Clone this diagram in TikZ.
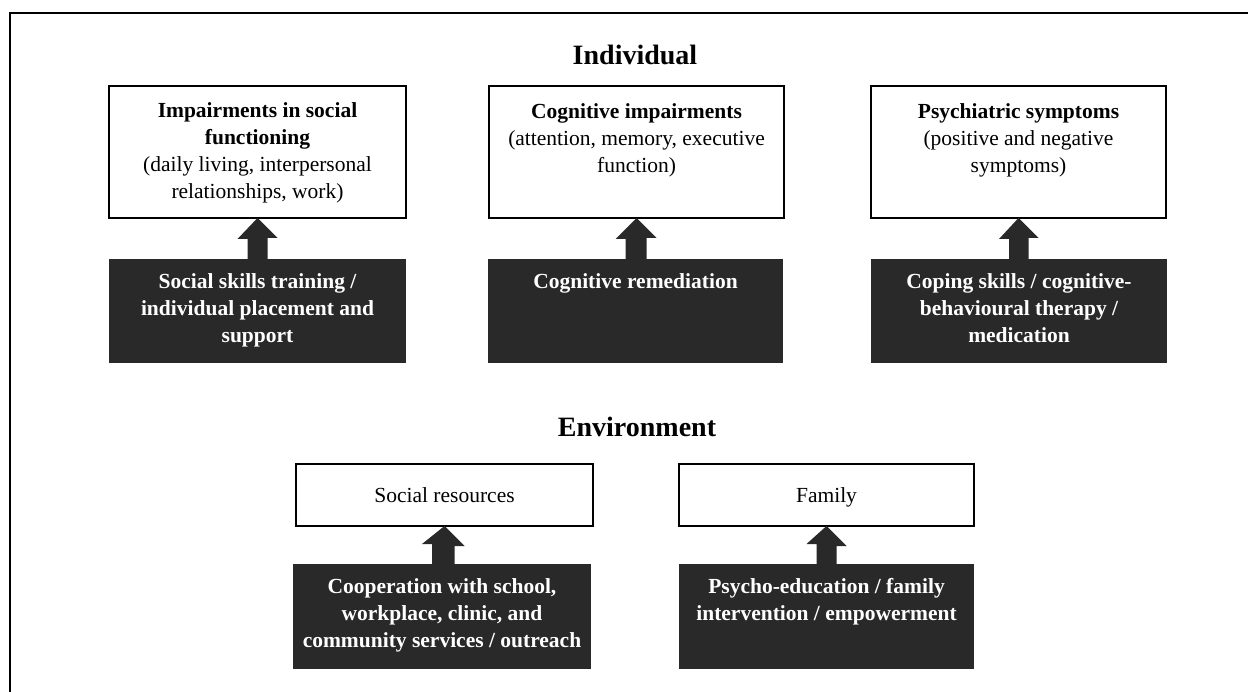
\documentclass[tikz,border=0pt]{standalone}
\usepackage{fontspec}
\setmainfont{Liberation Serif}
\definecolor{darkfill}{gray}{0.16}
\begin{document}
\begin{tikzpicture}[x=1pt,y=-1pt,
  wbox/.style={draw=black, line width=1.2pt, fill=white, inner sep=0pt, outer sep=0pt, anchor=north west},
  dbox/.style={fill=darkfill, inner sep=0pt, outer sep=0pt, anchor=north west},
  wtext/.style={align=center, anchor=north, inner sep=0pt, font=\fontsize{21.5}{27}\selectfont},
  dtext/.style={align=center, anchor=north, inner sep=0pt, text=white, font=\fontsize{21.5}{27}\selectfont\bfseries},
  titletext/.style={anchor=base, inner sep=0pt, font=\fontsize{28}{32}\selectfont\bfseries},
  blockarrow/.style={fill=darkfill}
]
\useasboundingbox (0,0) rectangle (1248,692);
\fill[white] (0,0) rectangle (1248,692);
% frame
\draw[line width=1.5pt] (10,692) -- (10,13) -- (1248,13);

% titles
\node[titletext] (tind) at (635,65) {Individual};
\node[titletext] (tenv) at (637,437) {Environment};

% white boxes
\node[wbox, minimum width=297pt, minimum height=132pt] (b1) at (109,86) {};
\node[wbox, minimum width=295pt, minimum height=132pt] (b2) at (489,86) {};
\node[wbox, minimum width=295pt, minimum height=132pt] (b3) at (871,86) {};
\node[wbox, minimum width=297pt, minimum height=62pt] (b4) at (296,464) {};
\node[wbox, minimum width=295pt, minimum height=62pt] (b5) at (679,464) {};

% dark boxes
\node[dbox, minimum width=297pt, minimum height=104pt] (d1) at (109,259) {};
\node[dbox, minimum width=295pt, minimum height=104pt] (d2) at (488,259) {};
\node[dbox, minimum width=296pt, minimum height=104pt] (d3) at (871,259) {};
\node[dbox, minimum width=298pt, minimum height=105pt] (d4) at (293,564) {};
\node[dbox, minimum width=295pt, minimum height=105pt] (d5) at (679,564) {};

% arrows
\foreach \d/\b in {d1/b1,d2/b2,d3/b3,d4/b4,d5/b5}
  \fill[blockarrow] (\d.north) ++(-10,0) -- ++(0,-20) -- ++(-10,0) -- (\b.south)
     -- ++(20,20) -- ++(-10,0) |- (\d.north) -- cycle;

% texts in white boxes
\node[wtext] (t1) at (257.5,102) {\textbf{Impairments in social}\\\textbf{functioning}\\(daily living, interpersonal\\relationships, work)};
\node[wtext] (t2) at (636.5,103) {\textbf{Cognitive impairments}\\(attention, memory, executive\\function)};
\node[wtext] (t3) at (1018.5,103) {\textbf{Psychiatric symptoms}\\(positive and negative\\symptoms)};
\node[wtext] (t4) at (444.5,487) {Social resources};
\node[wtext] (t5) at (826.5,487) {Family};

% texts in dark boxes
\node[dtext] (s1) at (257.5,273) {Social skills training /\\individual placement and\\support};
\node[dtext] (s2) at (635.5,273) {Cognitive remediation};
\node[dtext] (s3) at (1019,273) {Coping skills / cognitive-\\behavioural therapy /\\medication};
\node[dtext] (s4) at (442,578) {Cooperation with school,\\workplace, clinic, and\\community services / outreach};
\node[dtext] (s5) at (826.5,578) {Psycho-education / family\\intervention / empowerment};
\end{tikzpicture}
\end{document}
